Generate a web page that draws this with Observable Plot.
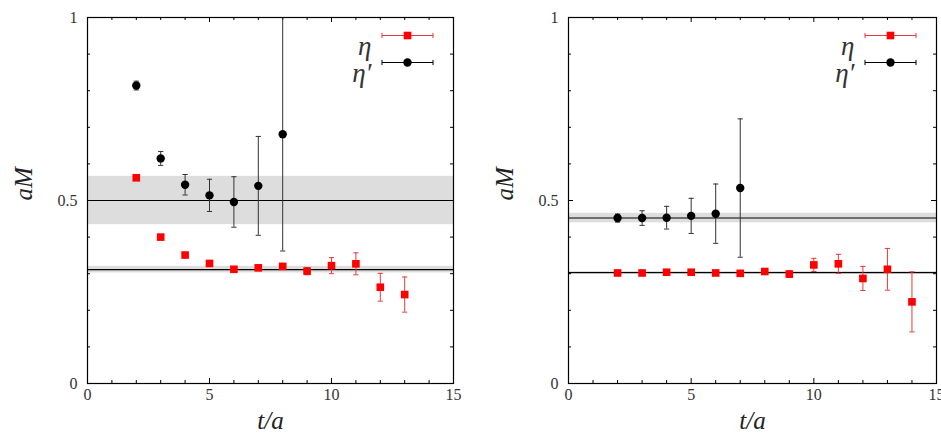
<!DOCTYPE html>
<html>
<head>
<meta charset="utf-8">
<script src="https://cdn.jsdelivr.net/npm/d3@7"></script>
<script src="https://cdn.jsdelivr.net/npm/@observablehq/plot@0.6"></script>
<style>
  body { margin: 0; background: #fff; }
  #wrap { position: relative; width: 941px; height: 442px; overflow: hidden; }
  .panel { position: absolute; top: 0; }
  .panel text { font-family: "Liberation Serif", serif !important; }
</style>
</head>
<body>
<div id="wrap"></div>
<script>
// Effective masses aM of the eta and eta' versus t/a, two ensembles.

// Left ensemble
const tLeftEta  = [2, 3, 4, 5, 6, 7, 8, 9, 10, 11, 12, 13];
const mLeftEta  = [0.562, 0.400, 0.351, 0.328, 0.312, 0.316, 0.320, 0.307, 0.322, 0.327, 0.263, 0.243];
const eLeftEta  = [0.003, 0.003, 0.003, 0.004, 0.005, 0.006, 0.008, 0.010, 0.022, 0.030, 0.038, 0.048];
const tLeftEtaP = [2, 3, 4, 5, 6, 7, 8];
const mLeftEtaP = [0.814, 0.615, 0.543, 0.514, 0.496, 0.540, 0.681];
const eLeftEtaP = [0.012, 0.019, 0.028, 0.044, 0.069, 0.135, 0.319];
const fitLeftEta  = [0.311, 0.009];   // value, error
const fitLeftEtaP = [0.500, 0.066];

// Right ensemble
const tRightEta  = [2, 3, 4, 5, 6, 7, 8, 9, 10, 11, 12, 13, 14];
const mRightEta  = [0.302, 0.302, 0.304, 0.304, 0.302, 0.301, 0.306, 0.299, 0.324, 0.327, 0.287, 0.312, 0.223];
const eRightEta  = [0.004, 0.004, 0.004, 0.004, 0.004, 0.004, 0.006, 0.009, 0.018, 0.026, 0.033, 0.057, 0.082];
const tRightEtaP = [2, 3, 4, 5, 6, 7];
const mRightEtaP = [0.452, 0.452, 0.453, 0.458, 0.464, 0.534];
const eRightEtaP = [0.011, 0.020, 0.031, 0.048, 0.081, 0.189];
const fitRightEta  = [0.303, 0.003];
const fitRightEtaP = [0.452, 0.013];

// Axes
const xMajorTicks = [0, 5, 10, 15];
const xMinorTicks = [1, 2, 3, 4, 6, 7, 8, 9, 11, 12, 13, 14];
const xInnerMajor = [5, 10];
const yMajorTicks = [0, 0.5, 1];
const yMinorTicks = [0.1, 0.2, 0.3, 0.4, 0.6, 0.7, 0.8, 0.9];
const yInnerMajor = [0.5];
const seriesNames = ["η", "η′"];
const xTitle = "t/a";
const yTitle = "aM";

const RED = "#ff0000", RED_BAR = "#e83a3a", BLACK = "#000", BLACK_BAR = "#333";
const SERIF = "Liberation Serif";

const rows = (t, m, e) => t.map((ti, i) => ({t: ti, m: m[i], e: e[i]}));

// small horizontal cap for the error bars
const capSymbol = {draw(c) { c.moveTo(-2.6, 0); c.lineTo(2.6, 0); }};
// horizontal error bar used as the legend key
const keySymbol = {draw(c) {
  c.moveTo(-25.5, 0); c.lineTo(25.5, 0);
  c.moveTo(-25.5, -2.6); c.lineTo(-25.5, 2.6);
  c.moveTo(25.5, -2.6); c.lineTo(25.5, 2.6);
}};

function errorMarks(data, barColor, dotColor, symbol, r) {
  return [
    Plot.ruleX(data, {x: "t", y1: d => d.m - d.e, y2: d => d.m + d.e, stroke: barColor, strokeWidth: 1, clip: true}),
    Plot.dot(data, {x: "t", y: d => d.m + d.e, symbol: capSymbol, stroke: barColor, fill: "none", strokeWidth: 1, clip: true}),
    Plot.dot(data, {x: "t", y: d => d.m - d.e, symbol: capSymbol, stroke: barColor, fill: "none", strokeWidth: 1, clip: true}),
    Plot.dot(data, {x: "t", y: "m", symbol, r, fill: dotColor, stroke: "none", clip: true})
  ];
}

function panel({eta, etaP, fits, width, marginLeft, marginRight}) {
  const marginTop = 17, marginBottom = 59, height = 442;
  const H = height - marginTop - marginBottom;
  const W = width - marginLeft - marginRight;
  const minorLen = 3, majorLen = 5;
  const bands = fits.map(([v, e]) => ({mid: v, lo: v - e, hi: v + e}));
  const legend = [
    {name: seriesNames[0], dy: 18, bar: RED_BAR, fill: RED, symbol: "square", r: 4.3},
    {name: seriesNames[1], dy: 45, bar: BLACK, fill: BLACK, symbol: "circle", r: 4.2}
  ];
  const svg = Plot.plot({
    width, height, marginTop, marginBottom, marginLeft, marginRight,
    x: {domain: [0, 15]},
    y: {domain: [0, 1]},
    style: {overflow: "visible", background: "transparent"},
    marks: [
      Plot.rect(bands, {y1: "lo", y2: "hi", fill: "#dddddd"}),
      Plot.ruleY(bands, {y: "mid", stroke: "#000", strokeWidth: 1.1}),
      // inward ticks on all four sides
      Plot.ruleX(xMinorTicks, {x: d => d, insetTop: H - minorLen, stroke: "#000"}),
      Plot.ruleX(xMinorTicks, {x: d => d, insetBottom: H - minorLen, stroke: "#000"}),
      Plot.ruleX(xInnerMajor, {x: d => d, insetTop: H - majorLen, stroke: "#000"}),
      Plot.ruleX(xInnerMajor, {x: d => d, insetBottom: H - majorLen, stroke: "#000"}),
      Plot.ruleY(yMinorTicks, {y: d => d, insetRight: W - minorLen, stroke: "#000"}),
      Plot.ruleY(yMinorTicks, {y: d => d, insetLeft: W - minorLen, stroke: "#000"}),
      Plot.ruleY(yInnerMajor, {y: d => d, insetRight: W - majorLen, stroke: "#000"}),
      Plot.ruleY(yInnerMajor, {y: d => d, insetLeft: W - majorLen, stroke: "#000"}),
      ...errorMarks(etaP, BLACK_BAR, BLACK, "circle", 4.2),
      ...errorMarks(eta, RED_BAR, RED, "square", 4.3),
      Plot.frame({stroke: "#000", strokeWidth: 1.2}),
      Plot.axisX({ticks: xMajorTicks, tickSize: 0, tickPadding: 5, tickFormat: d => String(d),
                  fontSize: 16, fontFamily: SERIF, fill: "#333", label: null}),
      Plot.axisY({ticks: yMajorTicks, tickSize: 0, tickPadding: 10, tickFormat: d => String(d),
                  fontSize: 16, fontFamily: SERIF, fill: "#333", label: null}),
      Plot.text([xTitle], {text: d => d, frameAnchor: "bottom", dy: 45, fontSize: 25, fontFamily: SERIF,
                           fontStyle: "italic", fill: "#222"}),
      Plot.text([yTitle], {text: d => d, frameAnchor: "left", dx: -64, rotate: -90, fontSize: 25, fontFamily: SERIF,
                           fontStyle: "italic", fill: "#222"}),
      // legend keys in the upper right corner
      ...legend.flatMap(k => [
        Plot.text([k.name], {text: d => d, frameAnchor: "top-right", dx: -82, dy: k.dy, textAnchor: "end",
                             fontSize: 27, fontFamily: SERIF, fontStyle: "italic", fill: "#333"}),
        Plot.dot([k.name], {frameAnchor: "top-right", dx: -46, dy: k.dy, symbol: keySymbol,
                            stroke: k.bar, fill: "none", strokeWidth: 1}),
        Plot.dot([k.name], {frameAnchor: "top-right", dx: -46, dy: k.dy, symbol: k.symbol, r: k.r,
                            fill: k.fill, stroke: "none"})
      ])
    ]
  });
  svg.style.fontFamily = "'Liberation Serif', serif";
  return svg;
}

const wrap = document.getElementById("wrap");
const left = panel({
  eta: rows(tLeftEta, mLeftEta, eLeftEta),
  etaP: rows(tLeftEtaP, mLeftEtaP, eLeftEtaP),
  fits: [fitLeftEtaP, fitLeftEta],
  width: 470, marginLeft: 87, marginRight: 17
});
left.classList.add("panel");
left.style.left = "0px";
wrap.appendChild(left);

const right = panel({
  eta: rows(tRightEta, mRightEta, eRightEta),
  etaP: rows(tRightEtaP, mRightEtaP, eRightEtaP),
  fits: [fitRightEtaP, fitRightEta],
  width: 471, marginLeft: 98, marginRight: 5
});
right.classList.add("panel");
right.style.left = "470px";
wrap.appendChild(right);
</script>
</body>
</html>
